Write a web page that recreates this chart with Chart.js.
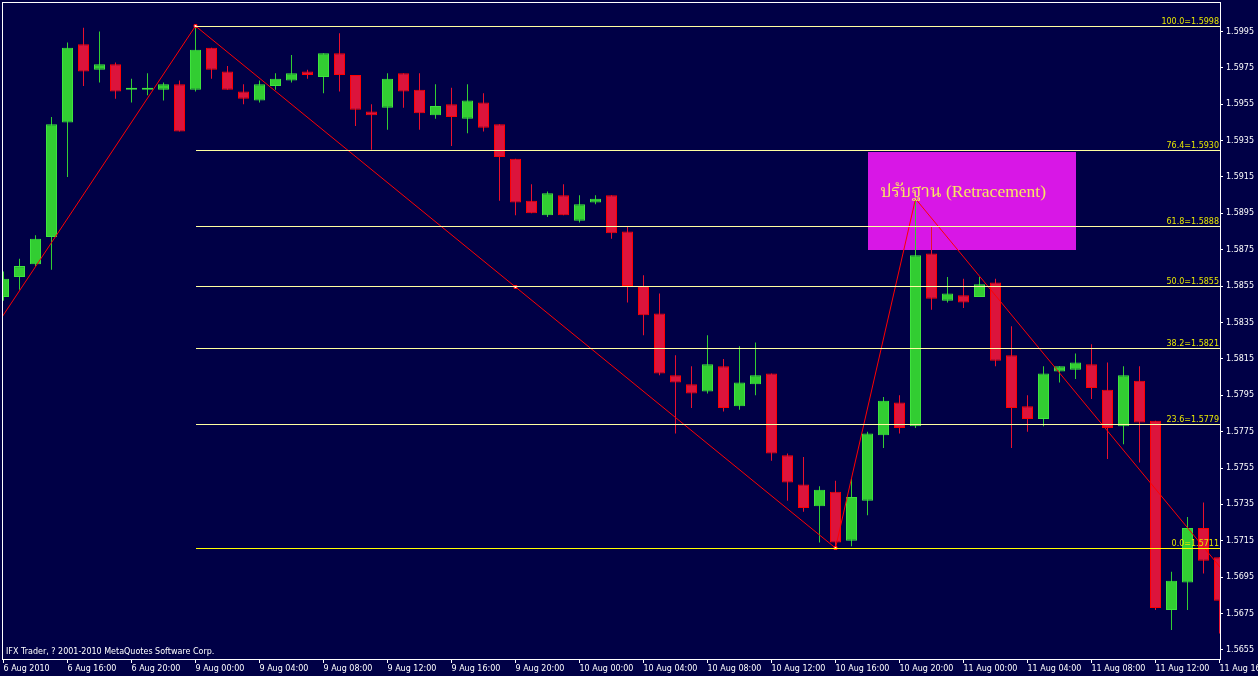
<!DOCTYPE html>
<html>
<head>
<meta charset="utf-8">
<script src="https://cdn.jsdelivr.net/npm/chart.js@4.4.0/dist/chart.umd.min.js"></script>
<style>
html, body { margin: 0; padding: 0; background: #000046; }
#chart { display: block; }
</style>
</head>
<body>
<canvas id="chart" width="1258" height="676"></canvas>
<script>
// hourly candles, 6 Aug 12:00 .. 11 Aug 16:00
const opens  = [1.5849,1.5860,1.5867,1.5882,1.5945,1.5988,1.5974,1.5977,1.5963,1.5963,1.5963,1.5966,1.5963,1.5986,1.5973,1.5962,1.5957,1.5965,1.5968,1.5973,
                1.5970,1.5983,1.5971,1.5951,1.5953,1.5972,1.5963,1.5949,1.5955,1.5947,1.5956,1.5944,1.5925,1.5902,1.5894,1.5905,1.5891,1.5901,1.5905,1.5885,
                1.5855,1.5840,1.5806,1.5801,1.5797,1.5811,1.5789,1.5801,1.5807,1.5762,1.5746,1.5734,1.5742,1.5715,1.5737,1.5773,1.5791,1.5778,1.5873,1.5847,
                1.5850,1.5849,1.5857,1.5817,1.5789,1.5782,1.5808,1.5809,1.5812,1.5798,1.5778,1.5803,1.5781,1.5677,1.5692,1.5722,1.5706];
const highs  = [1.5863,1.5870,1.5883,1.5948,1.5989,1.5997,1.5995,1.5978,1.5969,1.5972,1.5967,1.5968,1.5998,1.5986,1.5976,1.5966,1.5968,1.5972,1.5982,1.5974,
                1.5983,1.5994,1.5971,1.5955,1.5972,1.5972,1.5972,1.5966,1.5964,1.5966,1.5961,1.5944,1.5925,1.5911,1.5907,1.5911,1.5905,1.5905,1.5905,1.5888,
                1.5861,1.5851,1.5817,1.5811,1.5828,1.5815,1.5822,1.5824,1.5807,1.5763,1.5761,1.5745,1.5748,1.5749,1.5775,1.5794,1.5795,1.5903,1.5888,1.5860,
                1.5859,1.5860,1.5859,1.5833,1.5795,1.5811,1.5811,1.5818,1.5823,1.5813,1.5811,1.5811,1.5781,1.5698,1.5728,1.5736,1.5706];
const lows   = [1.5847,1.5853,1.5866,1.5864,1.5915,1.5965,1.5967,1.5958,1.5956,1.5960,1.5957,1.5940,1.5962,1.5969,1.5963,1.5955,1.5956,1.5963,1.5967,1.5969,
                1.5961,1.5962,1.5943,1.5930,1.5941,1.5953,1.5941,1.5947,1.5932,1.5939,1.5940,1.5902,1.5894,1.5895,1.5893,1.5894,1.5890,1.5900,1.5881,1.5846,
                1.5828,1.5806,1.5774,1.5788,1.5796,1.5786,1.5787,1.5795,1.5759,1.5737,1.5731,1.5714,1.5711,1.5712,1.5729,1.5766,1.5774,1.5777,1.5842,1.5846,
                1.5843,1.5849,1.5811,1.5766,1.5775,1.5778,1.5802,1.5804,1.5793,1.5760,1.5768,1.5758,1.5677,1.5666,1.5677,1.5697,1.5664];
const closes = [1.5859,1.5866,1.5881,1.5944,1.5986,1.5973,1.5977,1.5962,1.5964,1.5964,1.5966,1.5940,1.5985,1.5974,1.5963,1.5958,1.5966,1.5969,1.5972,1.5971,
                1.5983,1.5971,1.5952,1.5949,1.5969,1.5962,1.5950,1.5954,1.5948,1.5957,1.5942,1.5926,1.5901,1.5895,1.5906,1.5894,1.5900,1.5903,1.5884,1.5855,
                1.5839,1.5807,1.5802,1.5796,1.5812,1.5788,1.5802,1.5806,1.5763,1.5747,1.5733,1.5743,1.5714,1.5739,1.5774,1.5792,1.5777,1.5872,1.5848,1.5851,
                1.5846,1.5856,1.5814,1.5788,1.5782,1.5807,1.5811,1.5813,1.5799,1.5777,1.5806,1.5780,1.5678,1.5693,1.5722,1.5704,1.5682];

const timeLabels = ['6 Aug 2010','6 Aug 16:00','6 Aug 20:00','9 Aug 00:00','9 Aug 04:00','9 Aug 08:00','9 Aug 12:00',
                    '9 Aug 16:00','9 Aug 20:00','10 Aug 00:00','10 Aug 04:00','10 Aug 08:00','10 Aug 12:00','10 Aug 16:00',
                    '10 Aug 20:00','11 Aug 00:00','11 Aug 04:00','11 Aug 08:00','11 Aug 12:00','11 Aug 16:00'];
const priceTicks = [1.5995,1.5975,1.5955,1.5935,1.5915,1.5895,1.5875,1.5855,1.5835,1.5815,1.5795,1.5775,1.5755,1.5735,1.5715,1.5695,1.5675,1.5655];

const fibLevels = ['100.0','76.4','61.8','50.0','38.2','23.6','0.0'];
const fibPrices = [1.5998,1.5930,1.5888,1.5855,1.5821,1.5779,1.5711];
const fibStart = 12;

const zigzagIdx = [-1, 12, 52, 57, 79];
const zigzagVal = [1.5826, 1.5998, 1.5711, 1.5903, 1.5669];
const anchorIdx = [12, 32, 52];
const anchorVal = [1.5998, 1.58545, 1.5711];

const boxIdx = [54, 67];
const boxVal = [1.5929, 1.5875];
const boxText = 'ปรับฐาน (Retracement)';
const copyright = 'IFX Trader, ? 2001-2010 MetaQuotes Software Corp.';

const BG = '#000046';
const UP = '#32cd32';
const DOWN = '#dc143c';
const smallFont = '8px "DejaVu Sans", sans-serif';

const idx = opens.map((_, i) => i);
const up = opens.map((o, i) => closes[i] >= o);

const overlays = {
    id: 'overlays',
    beforeDraw(chart) {
        const c = chart.ctx;
        c.save();
        c.fillStyle = BG;
        c.fillRect(0, 0, chart.width, chart.height);
        c.restore();
    },
    beforeDatasetsDraw(chart) {
        const c = chart.ctx, a = chart.chartArea;
        const xs = chart.scales.x, ys = chart.scales.y;
        c.save();
        c.beginPath();
        c.rect(a.left, a.top, a.right - a.left, a.bottom - a.top);
        c.clip();
        // rectangle object (drawn as background)
        const x0 = Math.round(xs.getPixelForValue(boxIdx[0]));
        const x1 = Math.round(xs.getPixelForValue(boxIdx[1]));
        const y0 = Math.round(ys.getPixelForValue(boxVal[0]));
        const y1 = Math.round(ys.getPixelForValue(boxVal[1]));
        c.fillStyle = '#d817e6';
        c.fillRect(x0, y0, x1 - x0, y1 - y0);
        c.restore();
    },
    afterDatasetsDraw(chart) {
        const c = chart.ctx, a = chart.chartArea;
        const xs = chart.scales.x, ys = chart.scales.y;
        c.save();
        c.beginPath();
        c.rect(a.left, a.top, a.right - a.left, a.bottom - a.top);
        c.clip();

        // fibonacci levels
        const fx = Math.round(xs.getPixelForValue(fibStart));
        c.lineWidth = 1;
        c.font = smallFont;
        c.textAlign = 'right';
        c.textBaseline = 'alphabetic';
        fibPrices.forEach((p, k) => {
            const y = Math.round(ys.getPixelForValue(p)) + 0.5;
            c.strokeStyle = k === fibPrices.length - 1 ? '#ffff00' : '#ffffa0';
            c.beginPath();
            c.moveTo(fx, y);
            c.lineTo(a.right, y);
            c.stroke();
            c.fillStyle = '#e6e600';
            c.fillText(fibLevels[k] + '=' + p.toFixed(4), a.right - 1, y - 3);
        });

        // text object inside the box
        const bx = xs.getPixelForValue(boxIdx[0]);
        const by = ys.getPixelForValue(boxVal[0]);
        c.textAlign = 'left';
        c.fillStyle = '#f8e860';
        c.font = '17.5px "Liberation Serif", "Noto Serif Thai", "Noto Sans Thai", serif';
        c.fillText(boxText, bx + 13, by + 45);

        // copyright line
        c.fillStyle = '#ffffff';
        c.font = smallFont;
        c.fillText(copyright, a.left + 4, a.bottom - 5);
        c.restore();

        // frame
        c.save();
        c.strokeStyle = '#ffffff';
        c.lineWidth = 1;
        c.strokeRect(a.left + 0.5, a.top + 0.5, a.right - a.left, a.bottom - a.top);
        c.restore();
    }
};

const ctx = document.getElementById('chart').getContext('2d');
new Chart(ctx, {
    type: 'bar',
    data: {
        datasets: [
            {
                type: 'scatter',
                data: anchorIdx.map((x, k) => ({ x, y: anchorVal[k] })),
                pointStyle: 'rect',
                pointRadius: 2,
                backgroundColor: '#ffffff',
                borderColor: '#ff0000',
                borderWidth: 1,
                order: 0
            },
            {
                type: 'line',
                data: zigzagIdx.map((x, k) => ({ x, y: zigzagVal[k] })),
                borderColor: '#ff0000',
                borderWidth: 1,
                pointRadius: 0,
                tension: 0,
                clip: 0,
                order: 1
            },
            {
                data: idx.map(i => ({ x: i, y: [opens[i], closes[i]] })),
                backgroundColor: up.map(u => u ? UP : DOWN),
                borderColor: up.map(u => u ? '#3ee43e' : '#ff0000'),
                borderWidth: 1,
                borderSkipped: false,
                inflateAmount: 0,
                barThickness: 11,
                grouped: false,
                clip: 0,
                order: 2
            },
            {
                data: idx.map(i => ({ x: i, y: [lows[i], highs[i]] })),
                backgroundColor: up.map(u => u ? UP : '#e8102e'),
                borderWidth: 0,
                inflateAmount: 0,
                barThickness: 1,
                grouped: false,
                clip: 0,
                order: 3
            }
        ]
    },
    options: {
        responsive: false,
        animation: false,
        events: [],
        layout: { autoPadding: false, padding: { left: 2, top: 2, right: 0, bottom: 0 } },
        plugins: { legend: { display: false }, tooltip: { enabled: false } },
        scales: {
            x: {
                type: 'linear',
                position: 'bottom',
                min: -0.09375,
                max: 76.03125,
                offset: false,
                grid: { offset: false, drawOnChartArea: false, drawTicks: true, tickLength: 4, color: '#ffffff' },
                border: { display: false },
                afterBuildTicks: s => { s.ticks = timeLabels.map((_, k) => ({ value: k * 4 })); },
                afterFit: s => { s.height = 17; s.paddingLeft = 0; s.paddingRight = 0; },
                ticks: {
                    color: '#ffffff',
                    font: { family: 'DejaVu Sans', size: 8 },
                    align: 'start',
                    padding: 1,
                    maxRotation: 0,
                    autoSkip: false,
                    callback: v => timeLabels[Math.round(v / 4)]
                }
            },
            y: {
                type: 'linear',
                position: 'right',
                min: 1.5650,
                max: 1.60112,
                beginAtZero: false,
                grid: { drawOnChartArea: false, drawTicks: true, tickLength: 3, color: '#ffffff' },
                border: { display: false },
                afterBuildTicks: s => { s.ticks = priceTicks.map(v => ({ value: v })); },
                afterFit: s => { s.width = 38; s.paddingTop = 0; s.paddingBottom = 0; },
                ticks: {
                    color: '#ffffff',
                    font: { family: 'DejaVu Sans', size: 8 },
                    padding: 3,
                    autoSkip: false,
                    callback: v => v.toFixed(4)
                }
            }
        }
    },
    plugins: [overlays]
});
</script>
</body>
</html>
